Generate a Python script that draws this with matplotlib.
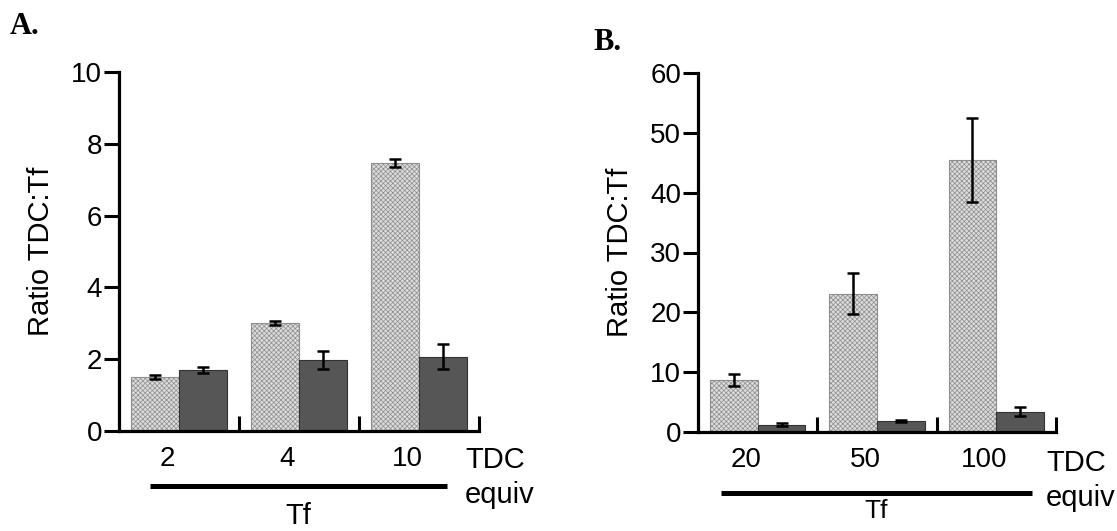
import matplotlib
matplotlib.use("Agg")
import matplotlib.pyplot as plt
import matplotlib.transforms as mtransforms
from matplotlib.lines import Line2D
import numpy as np

# ---------------- data ----------------
labels_a = ["2", "4", "10"]
light_a = [1.50, 3.00, 7.47]
light_a_err = [0.05, 0.06, 0.11]
dark_a = [1.70, 1.97, 2.07]
dark_a_err = [0.09, 0.25, 0.34]
yticks_a = [0, 2, 4, 6, 8, 10]

labels_b = ["20", "50", "100"]
light_b = [8.7, 23.1, 45.5]
light_b_err = [1.0, 3.4, 7.0]
dark_b = [1.25, 1.85, 3.4]
dark_b_err = [0.2, 0.15, 0.8]
yticks_b = [0, 10, 20, 30, 40, 50, 60]

W, H = 1117, 531
plt.rcParams['font.family'] = ['Liberation Sans', 'DejaVu Sans']
plt.rcParams['hatch.linewidth'] = 0.5

fig = plt.figure(figsize=(W / 100, H / 100), dpi=100)


def rect(l, t, r, b):
    return [l / W, 1 - b / H, (r - l) / W, (b - t) / H]


def px(x, y):
    return (x / W, 1 - y / H)


def panel(ax, labels, light, light_err, dark, dark_err, yticks):
    n = len(labels)
    g = np.arange(n)
    bw = 0.4
    ax.bar(g + 0.1, light, width=bw, align='edge', facecolor='#dcdcdc',
           edgecolor='#8e8e8e', hatch='xxxxxxx', linewidth=0.8, zorder=2)
    ax.bar(g + 0.5, dark, width=bw, align='edge', facecolor='#565656',
           edgecolor='#333333', linewidth=0.8, zorder=2)
    ax.errorbar(g + 0.3, light, yerr=light_err, fmt='none', ecolor='black',
                elinewidth=1.8, capsize=4.5, capthick=1.8, zorder=3)
    ax.errorbar(g + 0.7, dark, yerr=dark_err, fmt='none', ecolor='black',
                elinewidth=1.8, capsize=4.5, capthick=1.8, zorder=3)
    ax.set_xlim(0, n)
    ax.set_ylim(yticks[0], yticks[-1])
    ax.set_yticks(yticks)
    ax.set_yticklabels([str(v) for v in yticks], fontsize=20)
    ax.set_xticks(g + 1)
    ax.set_xticklabels([])
    ax.set_xticks(g + 0.4, minor=True)
    ax.set_xticklabels(labels, minor=True, fontsize=20)
    ax.tick_params(axis='y', direction='out', length=11, width=2.2, pad=1)
    ax.tick_params(axis='x', which='major', direction='in', length=11, width=2.2)
    ax.tick_params(axis='x', which='minor', length=0, pad=11)
    for s in ['top', 'right']:
        ax.spines[s].set_visible(False)
    for s in ['left', 'bottom']:
        ax.spines[s].set_linewidth(2.3)
    ax.set_ylabel('Ratio TDC:Tf', fontsize=21, labelpad=12)


axA = fig.add_axes(rect(119, 72, 479, 431))
panel(axA, labels_a, light_a, light_a_err, dark_a, dark_a_err, yticks_a)
axB = fig.add_axes(rect(698, 73, 1056, 432))
panel(axB, labels_b, light_b, light_b_err, dark_b, dark_b_err, yticks_b)

# group lines and labels
for ax, x0, x1, yl, tdc_x, tdc_y, tf_y, tf_fs in [
        (axA, 0.26, 2.73, 486, 465, 460, 502, 21),
        (axB, 0.19, 2.80, 493, 1046, 463, 499, 19)]:
    tr = mtransforms.blended_transform_factory(ax.transData, fig.transFigure)
    fig.add_artist(Line2D([x0, x1], [1 - yl / H] * 2, transform=tr,
                          color='black', linewidth=3.6, solid_capstyle='butt'))
    ax.text((x0 + x1) / 2, 1 - tf_y / H, 'Tf', transform=tr, ha='center',
            va='top', fontsize=tf_fs, clip_on=False)
    fig.text(*px(tdc_x, tdc_y), 'TDC', ha='left', va='center', fontsize=21)
    fig.text(*px(tdc_x, tdc_y + 35), 'equiv', ha='left', va='center', fontsize=21)

fig.text(*px(10, 26), 'A.', ha='left', va='center', fontsize=22,
         fontweight='bold', family=['Liberation Serif', 'DejaVu Serif'])
fig.text(*px(593, 42), 'B.', ha='left', va='center', fontsize=22,
         fontweight='bold', family=['Liberation Serif', 'DejaVu Serif'])

fig.savefig('out.png', dpi=100)
